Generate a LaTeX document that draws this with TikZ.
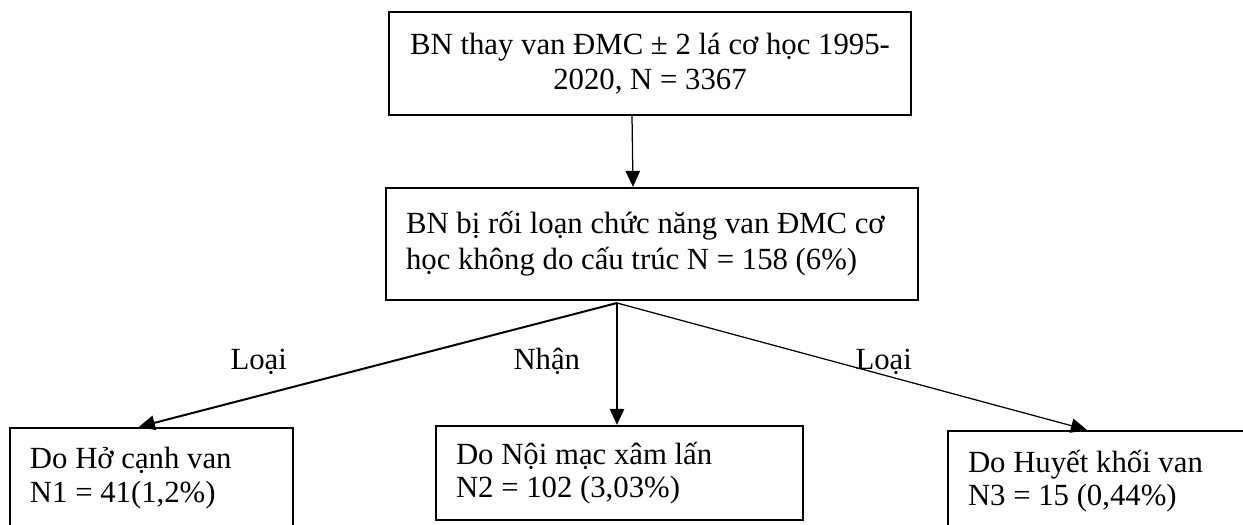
\documentclass[tikz,border=0pt]{standalone}
\usepackage{fontspec}
\setmainfont{Liberation Serif}
\usetikzlibrary{arrows.meta,positioning,calc}

\begin{document}
\begin{tikzpicture}[x=0.4pt,y=-0.4pt,
    font=\fontsize{12.3pt}{13.4pt}\selectfont,
    box/.style={draw,line width=0.9pt,inner sep=0pt},
    res/.style={box,align=flush left,inner xsep=8pt,text width=#1},
    arr/.style={-{Triangle[length=6.4pt,width=5.8pt]},line width=0.6pt},
    lbl/.style={anchor=base west,inner sep=0pt}
  ]
    \useasboundingbox (0,0) rectangle (1243,525);
    \clip (0,0) rectangle (1243,525);
    \node[box,align=flush center,minimum width=208.8pt,minimum height=41.2pt,
          font=\fontsize{12.3pt}{14pt}\selectfont] (all) at (650,63.5)
      {BN thay van ĐMC ± 2 lá cơ học 1995-\\2020, N = 3367};
    \node[res=196.8pt,minimum height=44.8pt,font=\fontsize{12.3pt}{14.4pt}\selectfont] (mech) at (652,244)
      {BN bị rối loạn chức năng van ĐMC cơ\\học không do cấu trúc N = 158 (6\%)};
    \node[res=97.2pt,minimum height=40pt] (leak) at (151.5,478)
      {Do Hở cạnh van\\N1 = 41(1,2\%)};
    \node[res=130.8pt,minimum height=37.6pt] (pannus) at (619.5,473)
      {Do Nội mạc xâm lấn\\N2 = 102 (3,03\%)};
    \node[res=104.8pt,minimum height=40pt] (thromb) at (1099,481)
      {Do Huyết khối van\\N3 = 15 (0,44\%)};
    \node[lbl] (lo1) at (230,369) {Loại};
    \node[lbl] (nh) at (513,369) {Nhận};
    \node[lbl] (lo2) at (855,369) {Loại};
    \coordinate (split) at (617,303);
    \draw[arr,line width=0.5pt] ($(all.south)+(-18,0)$) -- ($(mech.north)+(-19,0)$);
    \draw[arr,line width=0.8pt] (split) -- ($(leak.north west)+(130,0)$);
    \draw[arr,line width=0.5pt] (split) -- (split |- pannus.north);
    \draw[arr,line width=0.5pt] (split) -- ($(thromb.north west)+(140,0)$);
\end{tikzpicture}
\end{document}
